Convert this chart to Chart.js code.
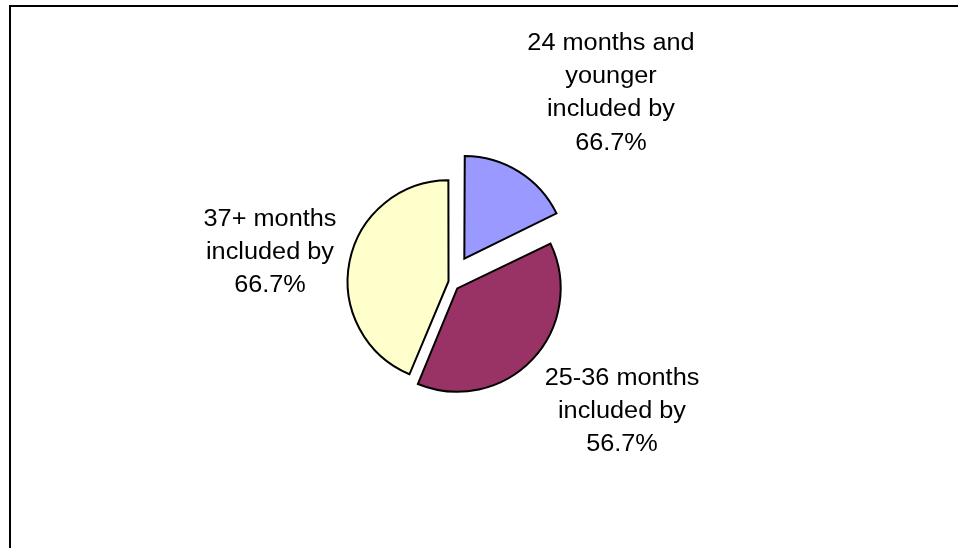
<!DOCTYPE html>
<html lang="en">
<head>
<meta charset="UTF-8">
<title>Included by age group</title>
<script src="https://cdn.jsdelivr.net/npm/chart.js"></script>
<style>
    body { margin: 0; background: #fff; }
    canvas { display: block; }
</style>
</head>
<body>
<canvas id="pieChart" width="958" height="548"></canvas>
<script>
// Данные диаграммы
const categories = ['24 months and younger', '25-36 months', '37+ months'];
const shares = [17.8, 38.5, 43.7]; // доли секторов, считаны по углам
const includedBy = ['66.7%', '56.7%', '66.7%'];
const nameLines = [['24 months and', 'younger'], ['25-36 months'], ['37+ months']];
const sliceColors = ['#9999FF', '#993366', '#FFFFCC'];
const explode = [108, 40, 6]; // выдвижение секторов (Chart.js делит на 4)

// Подписи секторов: смещение центра блока от центра круга
const labelOffsets = [[161, -188], [172, 130], [-180, -29]];

// Белый фон и рамка
const framePlugin = {
    id: 'frame',
    beforeDraw(chart) {
        const ctx = chart.ctx;
        ctx.save();
        ctx.fillStyle = '#fff';
        ctx.fillRect(0, 0, chart.width, chart.height);
        ctx.strokeStyle = '#000';
        ctx.lineWidth = 2;
        ctx.strokeRect(10, 6, chart.width + 20, chart.height + 20);
        ctx.restore();
    }
};

// Многострочные подписи
const sliceLabels = {
    id: 'sliceLabels',
    afterDatasetsDraw(chart) {
        const ctx = chart.ctx;
        const meta = chart.getDatasetMeta(0);
        meta.data.forEach((arc, i) => {
            const lines = nameLines[i].concat(['included by', includedBy[i]]);
            const cx = arc.x + labelOffsets[i][0];
            const cy = arc.y + labelOffsets[i][1];
            const lh = 33.2;
            ctx.save();
            ctx.font = '23px "Liberation Sans", Arial, sans-serif';
            ctx.fillStyle = '#000';
            ctx.textAlign = 'center';
            ctx.textBaseline = 'middle';
            lines.forEach((t, k) => {
                const y = cy + (k - (lines.length - 1) / 2) * lh;
                ctx.save();
                ctx.translate(cx, y);
                ctx.scale(1.1, 1);
                ctx.fillText(t, 0, 0);
                ctx.restore();
            });
            ctx.restore();
        });
    }
};

new Chart(document.getElementById('pieChart'), {
    type: 'pie',
    data: {
        labels: categories,
        datasets: [{
            data: shares,
            backgroundColor: sliceColors,
            borderColor: '#000',
            borderWidth: 2,
            borderJoinStyle: 'miter',
            offset: explode,
            radius: 100
        }]
    },
    options: {
        responsive: false,
        animation: false,
        layout: { padding: { left: 0, right: 58, top: 15, bottom: 0 } },
        plugins: {
            legend: { display: false },
            tooltip: { enabled: false }
        }
    },
    plugins: [framePlugin, sliceLabels]
});
</script>
</body>
</html>
